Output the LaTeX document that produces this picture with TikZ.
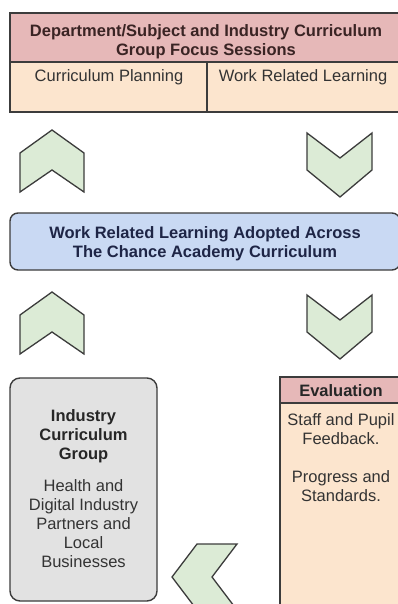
\documentclass[tikz,border=0pt]{standalone}
\usepackage{fontspec}
\setmainfont{Liberation Sans}
\usetikzlibrary{positioning}
\definecolor{edge}{HTML}{3C3C3C}
\definecolor{headpink}{HTML}{E6B8B8}
\definecolor{peach}{HTML}{FCE5CE}
\definecolor{chevgreen}{HTML}{DCEBD6}
\definecolor{paleblue}{HTML}{C9D9F3}
\definecolor{navy}{HTML}{1E2546}
\definecolor{panelgray}{HTML}{E2E2E2}
\definecolor{ink}{HTML}{333333}
\definecolor{headink}{HTML}{3A2424}

\tikzset{
  box/.style={draw=edge, line width=1.4pt},
  chevron/.style={draw=edge, fill=chevgreen, line width=1.3pt},
  txt/.style={font=\fontsize{16.5}{19}\selectfont, text=ink, align=center, inner sep=0pt},
  boldtxt/.style={txt, font=\fontsize{16.5}{19}\selectfont\bfseries, text=black!85},
}

\begin{document}
\begin{tikzpicture}[x=1pt, y=-1pt]
  \useasboundingbox (0,0) rectangle (398,604);
  \clip (0,0) rectangle (398,604);
  \fill[white] (0,0) rectangle (398,604);

  % Focus sessions table
  \draw[box, fill=headpink] (10,13) rectangle (403,62);
  \draw[box, fill=peach] (10,62) rectangle (403,112);
  \draw[box] (207,62) -- (207,112);
  \node[boldtxt, text=headink] (sessions) at (206,42)
    {Department/Subject and Industry Curriculum\\Group Focus Sessions};
  \node[txt] (planning) at (109,77) {Curriculum Planning};
  \node[txt] (wrl) at (303,77) {Work Related Learning};

  % Chevrons: up on the left, down on the right
  \draw[chevron] (52,130) -- (84,153) -- (84,192) -- (52,170) -- (20,192) -- (20,153) -- cycle;
  \draw[chevron] (307,133) -- (340,158) -- (372,133) -- (372,170) -- (340,197) -- (307,170) -- cycle;

  % Whole-curriculum box
  \draw[box, fill=paleblue, rounded corners=8pt] (10,213) rectangle (400,270);
  \node[boldtxt, text=navy] (adopted) at (205,244)
    {Work Related Learning Adopted Across\\The Chance Academy Curriculum};

  % Second pair of chevrons
  \draw[chevron] (52,292) -- (84,315) -- (84,354) -- (52,332) -- (20,354) -- (20,315) -- cycle;
  \draw[chevron] (307,295) -- (340,320) -- (372,295) -- (372,332) -- (340,359) -- (307,332) -- cycle;

  % Industry group panel
  \draw[box, fill=panelgray, rounded corners=10pt] (10,378) rectangle (157,601);
  \node[boldtxt] (industry) at (83.5,436) {Industry\\Curriculum\\Group};
  \node[txt] (partners) at (83.5,524)
    {Health and\\Digital Industry\\Partners and\\Local\\Businesses};

  % Evaluation column
  \draw[box, fill=peach] (280,403) rectangle (402,610);
  \draw[box, fill=headpink] (280,377) rectangle (402,403);
  \node[boldtxt] (evaluation) at (341,391) {Evaluation};
  \node[txt] (feedback) at (341,458)
    {Staff and Pupil\\Feedback.\\[19pt]Progress and\\Standards.};

  % Chevron pointing back to the industry group
  \draw[chevron] (172,577) -- (197,544) -- (237,544) -- (212,577) -- (237,610) -- (197,610) -- cycle;
\end{tikzpicture}
\end{document}
